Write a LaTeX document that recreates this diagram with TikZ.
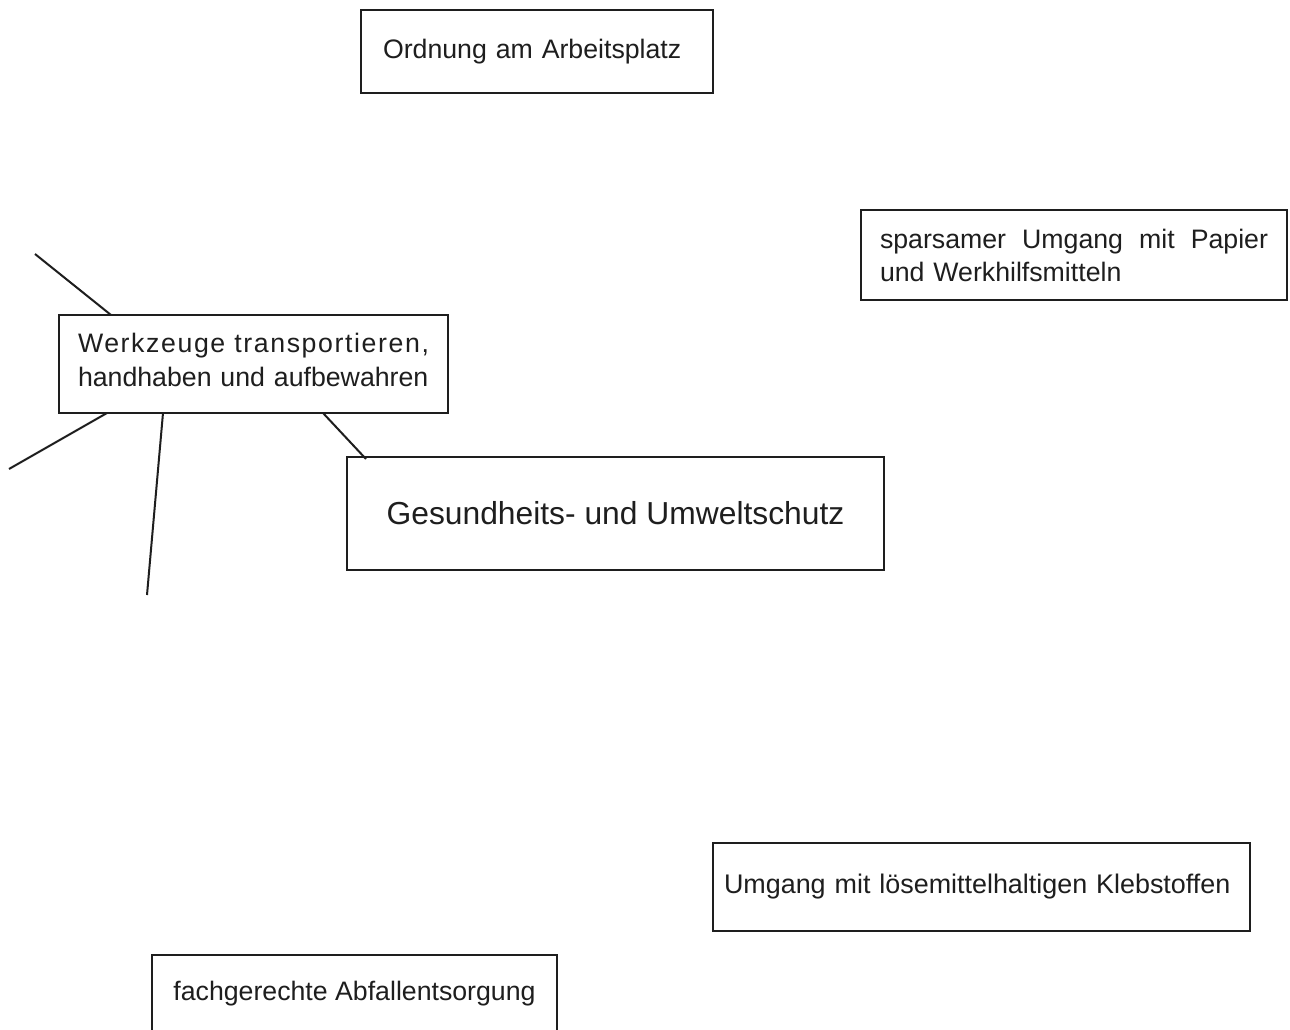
\documentclass[tikz,border=0pt]{standalone}
\usepackage{fontspec}
\setmainfont{Liberation Sans}
\usetikzlibrary{calc}
\definecolor{ink}{HTML}{1E1E1E}
\tikzset{
  box/.style={draw=ink, line width=2.3pt, rectangle, outer sep=0pt, inner ysep=0pt,
    text=ink, font=\fontsize{26.7}{34}\selectfont},
  conn/.style={draw=ink, line width=2pt}
}
\begin{document}
\begin{tikzpicture}[x=1pt,y=-1pt]
\useasboundingbox (0,0) rectangle (1290,1030);
\fill[white] (0,0) rectangle (1290,1030);
\clip (0,0) rectangle (1290,1030);

\node[box, minimum width=352pt, minimum height=83pt, text width=308pt, inner xsep=22pt, align=left]
  (ord) at (537,51.5) {Ordnung am Arbeitsplatz};

\node[box, minimum width=426pt, minimum height=90pt, text width=388pt, inner xsep=19pt, align=left,
  font=\fontsize{26.7}{33}\selectfont]
  (spar) at (1074,255) {\hbox to 388pt{sparsamer\hfill Umgang\hfill mit\hfill Papier}\\und Werkhilfsmitteln};

\node[box, minimum width=389pt, minimum height=98pt, text width=351pt, inner xsep=19pt, align=left,
  text depth=41.5pt]
  (werk) at (253.5,364) {\hbox to 351pt{\addfontfeature{LetterSpace=6}Werkzeuge\hfill transportieren,}\\handhaben und aufbewahren};

\node[box, minimum width=537pt, minimum height=113pt, align=center,
  font=\fontsize{31.8}{38}\selectfont]
  (ges) at (615.5,513.5) {Gesundheits- und Umweltschutz};

\node[box, minimum width=537pt, minimum height=88pt, text width=515pt, inner xsep=11pt, align=left,
  font=\fontsize{26.9}{34}\selectfont]
  (kleb) at (981.5,887) {Umgang mit lösemittelhaltigen Klebstoffen};

\node[box, minimum width=405pt, minimum height=78pt, align=center]
  (abf) at (354.5,994) {fachgerechte Abfallentsorgung};

\coordinate (endA) at (35,254);
\coordinate (endB) at (9,469);
\coordinate (endC) at (147,595);

\draw[conn] ([xshift=52pt]werk.north west) -- (endA);
\draw[conn] ([xshift=48pt]werk.south west) -- (endB);
\draw[conn] ([xshift=104pt]werk.south west) -- (endC);
\draw[conn] ([xshift=264pt]werk.south west) -- ([xshift=19pt,yshift=-2pt]ges.north west);
\end{tikzpicture}
\end{document}
